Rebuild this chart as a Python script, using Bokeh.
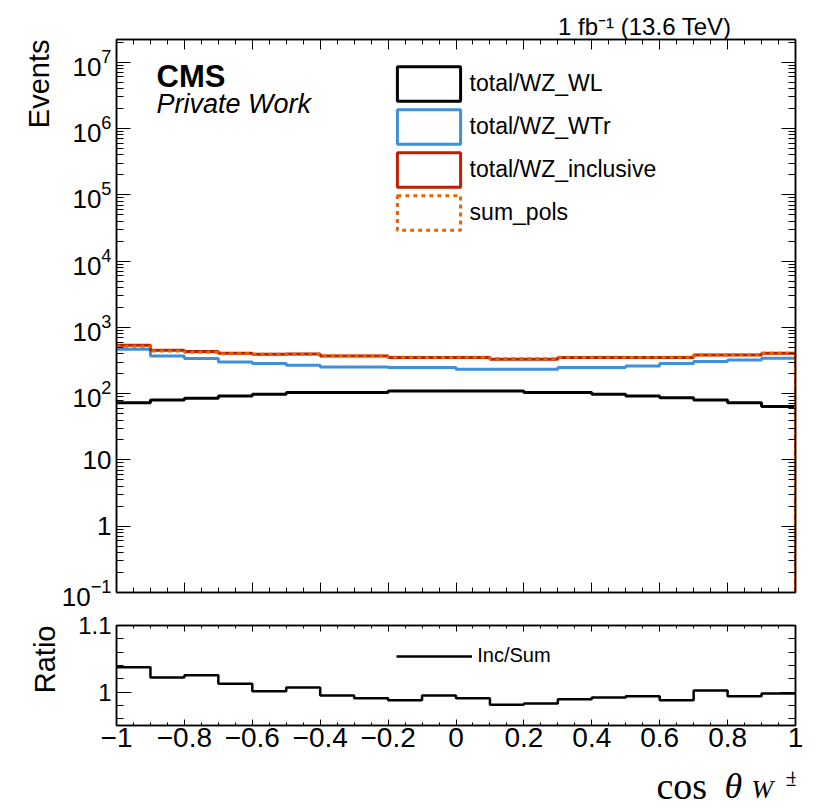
import math
from bokeh.plotting import figure
from bokeh.models import (Range1d, LinearAxis, LogAxis, LogTicker, SingleIntervalTicker,
                          FixedTicker, CustomJSTickFormatter, Label, Legend, LegendItem,
                          ColumnDataSource, Title)
from bokeh.layouts import column
from bokeh.embed import file_html
from bokeh.resources import INLINE

# ---------------- data ----------------
bin_edges = [-1.0, -0.9, -0.8, -0.7, -0.6, -0.5, -0.4, -0.3, -0.2, -0.1, 0.0,
             0.1, 0.2, 0.3, 0.4, 0.5, 0.6, 0.7, 0.8, 0.9, 1.0]
wz_wl = [73, 80, 85, 92, 98, 104, 104, 104, 110, 110,
         110, 110, 104, 104, 98, 92, 87, 80, 73, 64]
wz_wtr = [468, 371, 338, 301, 284, 268, 253, 253, 248, 248,
          233, 233, 233, 248, 248, 262, 284, 305, 322, 342]
wz_inclusive = [537, 451, 431, 406, 393, 397, 371, 371, 350, 350,
                350, 330, 330, 350, 350, 350, 350, 383, 383, 406]
sum_pols = [518, 441, 420, 401, 392, 394, 373, 374, 354, 352,
            353, 336, 336, 354, 353, 352, 354, 382, 385, 407]
ratio_inc_sum = [1.0375, 1.022, 1.0255, 1.0125, 1.0015, 1.007, 0.995, 0.991, 0.988, 0.995,
                 0.991, 0.981, 0.983, 0.9895, 0.992, 0.994, 0.988, 1.0025, 0.994, 0.998]

series_names = ["total/WZ_WL", "total/WZ_WTr", "total/WZ_inclusive", "sum_pols"]
series_colors = ["#000000", "#3f90da", "#bd1f01", "#e76300"]
ratio_label = "Inc/Sum"

FONT = "Liberation Sans"
SERIF = "Liberation Serif"


def step_xy(edges, vals, floor=None):
    xs, ys = [], []
    for i, v in enumerate(vals):
        xs += [edges[i], edges[i + 1]]
        ys += [v, v]
    if floor is not None:
        xs.append(edges[-1])
        ys.append(floor)
    return xs, ys


x_formatter = CustomJSTickFormatter(code="""
    let v = Math.abs(tick) < 1e-9 ? 0 : +tick.toFixed(2);
    return String(v).replace('-', '\\u2212');
""")


def mirror_axis(kind, ticker, tin, tmin):
    cls = LogAxis if kind == "log" else LinearAxis
    return cls(ticker=ticker, formatter=CustomJSTickFormatter(code="return '';"),
               major_label_text_font_size="4px", major_label_standoff=0,
               major_tick_in=tin, major_tick_out=0, minor_tick_in=tmin, minor_tick_out=0,
               axis_line_width=1.5)


def side_title(text, size, align, standoff=0, offset=0):
    return Title(text=text, align=align, offset=offset, standoff=standoff,
                 text_font=FONT, text_font_size=size, text_font_style="normal",
                 text_color="black")


# ---------------- main panel ----------------
p = figure(frame_width=679, frame_height=553,
           x_range=Range1d(-1, 1), y_range=Range1d(0.1, 2.2e7),
           y_axis_type="log", output_backend="svg", toolbar_location=None,
           min_border_left=116, min_border_right=20, min_border_top=39, min_border_bottom=19)
p.xgrid.visible = False
p.ygrid.visible = False
p.outline_line_color = "black"
p.outline_line_width = 1.5

xa = p.xaxis[0]
xa.ticker = SingleIntervalTicker(interval=0.2, num_minor_ticks=4)
xa.formatter = CustomJSTickFormatter(code="return '';")
xa.major_label_text_font_size = "4px"
xa.major_label_standoff = 0
xa.major_tick_in = 10
xa.major_tick_out = 0
xa.minor_tick_in = 5
xa.minor_tick_out = 0
xa.axis_line_width = 1.5

p.add_layout(mirror_axis("lin", SingleIntervalTicker(interval=0.2, num_minor_ticks=4), 10, 5), "above")

ya = p.yaxis[0]
ya.ticker = LogTicker(num_minor_ticks=10)
ya.major_label_overrides = {1: "1", 10: "10"}
ya.major_tick_in = 14
ya.major_tick_out = 0
ya.minor_tick_in = 7
ya.minor_tick_out = 0
ya.axis_line_width = 1.5
ya.major_label_text_font = FONT
ya.major_label_text_font_size = "26px"
ya.major_label_text_color = "black"
ya.major_label_standoff = 5

p.add_layout(mirror_axis("log", LogTicker(num_minor_ticks=10), 14, 7), "right")

dashes = ["solid", "solid", "solid", "4 4"]
all_vals = [wz_wl, wz_wtr, wz_inclusive, sum_pols]
for vals, col, d in zip(all_vals, series_colors, dashes):
    xs, ys = step_xy(bin_edges, vals, floor=1e-3)
    p.line(xs, ys, line_color=col, line_width=3, line_dash=d)

# legend with hollow boxes
items = []
for name, col, d in zip(series_names, series_colors, dashes):
    src = ColumnDataSource(dict(l=[float("nan")], r=[float("nan")],
                                t=[float("nan")], b=[float("nan")]))
    rr = p.quad(left="l", right="r", top="t", bottom="b", source=src,
                fill_alpha=0, line_color=col, line_width=3, line_dash=d)
    items.append(LegendItem(label=name, renderers=[rr]))
leg = Legend(items=items, location=(272.6, 358.3), glyph_width=79, glyph_height=43,
             spacing=0, label_standoff=2, padding=0, margin=0,
             border_line_alpha=0, background_fill_alpha=0,
             label_text_font=FONT, label_text_font_size="23px", label_text_color="black")
p.add_layout(leg)

p.add_layout(Label(x=40, y=516, x_units="screen", y_units="screen", text="CMS",
                   text_font=FONT, text_font_style="bold", text_font_size="31px",
                   text_baseline="alphabetic", text_color="black"))
p.add_layout(Label(x=40, y=489, x_units="screen", y_units="screen", text="Private Work",
                   text_font=FONT, text_font_style="italic", text_font_size="27px",
                   text_baseline="alphabetic", text_color="black"))

p.add_layout(side_title("1 fb\u207b\u00b9 (13.6 TeV)", "24px", "right", standoff=0, offset=64), "above")
p.add_layout(side_title("Events", "29px", "right", standoff=8), "left")

# ---------------- ratio panel ----------------
r = figure(frame_width=679, frame_height=100,
           x_range=p.x_range, y_range=Range1d(0.95, 1.1),
           output_backend="svg", toolbar_location=None,
           min_border_left=116, min_border_right=20, min_border_top=14, min_border_bottom=30)
r.xgrid.visible = False
r.ygrid.visible = False
r.outline_line_color = "black"
r.outline_line_width = 1.5

rx = r.xaxis[0]
rx.ticker = SingleIntervalTicker(interval=0.2, num_minor_ticks=4)
rx.formatter = x_formatter
rx.major_tick_in = 6
rx.major_tick_out = 0
rx.minor_tick_in = 3
rx.minor_tick_out = 0
rx.axis_line_width = 1.5
rx.major_label_text_font = FONT
rx.major_label_text_font_size = "28px"
rx.major_label_text_color = "black"
rx.major_label_standoff = 2

r.add_layout(mirror_axis("lin", SingleIntervalTicker(interval=0.2, num_minor_ticks=4), 6, 3), "above")

ry = r.yaxis[0]
ry.ticker = FixedTicker(ticks=[1.0, 1.1], minor_ticks=[0.96, 0.98, 1.02, 1.04, 1.06, 1.08])
ry.formatter = CustomJSTickFormatter(code="return String(+tick.toFixed(2));")
ry.major_tick_in = 15
ry.major_tick_out = 0
ry.minor_tick_in = 7
ry.minor_tick_out = 0
ry.axis_line_width = 1.5
ry.major_label_text_font = FONT
ry.major_label_text_font_size = "24px"
ry.major_label_text_color = "black"
ry.major_label_standoff = 5

r.add_layout(mirror_axis("lin", FixedTicker(ticks=[1.0, 1.1],
                                            minor_ticks=[0.96, 0.98, 1.02, 1.04, 1.06, 1.08]),
                         15, 7), "right")

rxs, rys = step_xy(bin_edges, ratio_inc_sum)
rl = r.line(rxs, rys, line_color="black", line_width=2.5)
rleg = Legend(items=[LegendItem(label=ratio_label, renderers=[rl])],
              location=(280.3, 58), glyph_width=76, glyph_height=20,
              label_standoff=5, padding=0, margin=0, border_line_alpha=0,
              background_fill_alpha=0, label_text_font=FONT,
              label_text_font_size="20px", label_text_color="black")
r.add_layout(rleg)

r.add_layout(side_title("Ratio", "29px", "right", standoff=30), "left")

# ---------------- x-axis title strip ----------------
q = figure(frame_width=679, frame_height=50, x_range=Range1d(0, 1), y_range=Range1d(0, 1),
           x_axis_location=None, y_axis_location=None,
           output_backend="svg", toolbar_location=None,
           min_border_left=116, min_border_right=20, min_border_top=0, min_border_bottom=0)
q.xgrid.visible = False
q.ygrid.visible = False
q.outline_line_color = None

q.add_layout(Label(x=540, y=20, x_units="screen", y_units="screen", text="cos",
                   text_font=SERIF, text_font_size="38px", text_baseline="alphabetic",
                   text_color="black"))
q.add_layout(Label(x=608, y=20, x_units="screen", y_units="screen", text="\u03b8",
                   text_font=SERIF, text_font_style="italic", text_font_size="36px",
                   text_baseline="alphabetic", text_color="black"))
q.add_layout(Label(x=635, y=16, x_units="screen", y_units="screen", text="W",
                   text_font=SERIF, text_font_style="italic", text_font_size="26px",
                   text_baseline="alphabetic", text_color="black"))
q.add_layout(Label(x=669, y=28, x_units="screen", y_units="screen", text="\u00b1",
                   text_font=SERIF, text_font_size="26px",
                   text_baseline="alphabetic", text_color="black"))

layout = column(p, r, q)
open("out.html", "w").write(file_html(layout, INLINE))
